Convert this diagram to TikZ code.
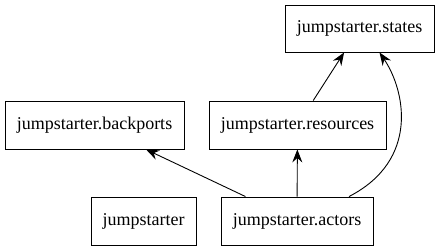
\documentclass[tikz,border=0pt]{standalone}
\usepackage{fontspec}
\setmainfont{Liberation Serif}
\usetikzlibrary{arrows.meta,calc}
\begin{document}
\begin{tikzpicture}[x=1pt,y=-1pt,
  pkg/.style={draw,line width=0.9pt,rectangle,inner sep=0pt,minimum height=48pt,font=\rmfamily\fontsize{18}{20}\selectfont},
  dep/.style={line width=0.9pt,-{Stealth[length=13pt,width=10pt,inset=4.5pt]}}]
\useasboundingbox (0,0) rectangle (440,251);
\node[pkg,minimum width=149pt,minimum height=47pt] (states) at (359.5,28.5) {jumpstarter.states};
\node[pkg,minimum width=179pt] (backports) at (94.5,125) {jumpstarter.backports};
\node[pkg,minimum width=177pt] (resources) at (297.5,125) {jumpstarter.resources};
\node[pkg,minimum width=105pt] (jumpstarter) at (143.5,221) {jumpstarter};
\node[pkg,minimum width=152pt] (actors) at (297,221) {jumpstarter.actors};
\draw[dep] (actors) -- (backports);
\draw[dep] (actors) -- (resources);
\draw[dep] (resources) -- (states);
\coordinate (a1) at ($(actors.north)+(52,0)$);
\coordinate (s1) at ($(states.south)+(20,0)$);
\draw[dep] (a1) .. controls (420,160) and (405,90) .. (s1);
\end{tikzpicture}
\end{document}
